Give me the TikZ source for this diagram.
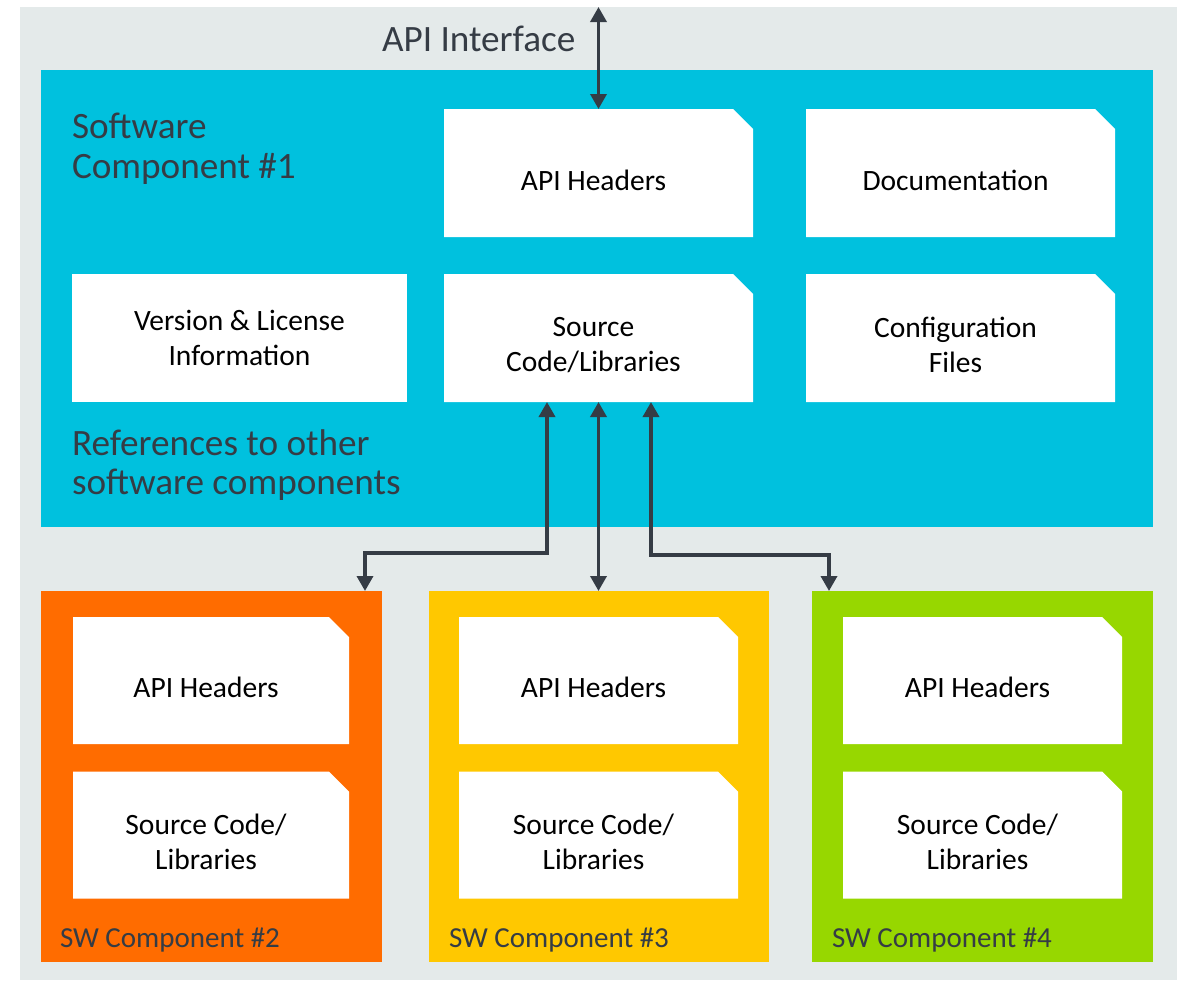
\documentclass[tikz,border=0pt]{standalone}
\usepackage{fontspec}
\setmainfont{Carlito}
\usetikzlibrary{arrows.meta}
\pgfdeclarelayer{bg}
\pgfsetlayers{bg,main}

\definecolor{pagegrey}{HTML}{E4EAEA}
\definecolor{compcyan}{HTML}{00C1DE}
\definecolor{comporange}{HTML}{FF6C00}
\definecolor{compyellow}{HTML}{FFC800}
\definecolor{compgreen}{HTML}{97D700}
\definecolor{inkdark}{HTML}{353C45}

% white sheet with a cut top-right corner
\newcommand\foldsheet[1]{%
  \fill[white] (#1.north west) -- ([xshift=-20pt]#1.north east)
    -- ([yshift=-20pt]#1.north east) -- (#1.south east) -- (#1.south west) -- cycle;}
\newcommand\plainsheet[1]{%
  \fill[white] (#1.north west) rectangle (#1.south east);}

\begin{document}
\begin{tikzpicture}[x=1pt,y=-1pt,
  every node/.style={outer sep=0pt, inner sep=0pt},
  sheettext/.style={align=center, text=black,
    font=\fontsize{29.5}{35}\selectfont},
  % a sheet is an empty frame; its text sits slightly low and left
  sheet/.style={label={[sheettext, xshift=-5pt, yshift=-7pt]center:{#1}}},
  bigsheet/.style={sheet=#1, minimum width=309pt, minimum height=128pt},
  smallsheet/.style={sheet=#1, minimum height=127pt},
  panel/.style={minimum width=341pt, minimum height=371pt, fill=#1},
  biglabel/.style={anchor=base west, text=inkdark,
    font=\fontsize{37.2}{40}\selectfont},
  paneltitle/.style={anchor=base west, text=inkdark,
    font=\fontsize{29}{34}\selectfont},
  link/.style={draw=inkdark, line width=3.5pt,
    {Triangle[width=16pt,length=15pt]}-{Triangle[width=16pt,length=15pt]}}]

\useasboundingbox (0,0) rectangle (1186,980);

% ---------- backgrounds ----------
\begin{pgfonlayer}{bg}
  \fill[pagegrey] (20,7) rectangle (1177,980);
  \fill[compcyan] (41,70) rectangle (1153,527);
  \node[panel=comporange] (sw2) at (211.5,776.5) {};
  \node[panel=compyellow, minimum width=340pt] (sw3) at (599,776.5) {};
  \node[panel=compgreen] (sw4) at (982.5,776.5) {};
\end{pgfonlayer}

% ---------- software component #1 ----------
\node[biglabel] (apiif) at (382,51) {API Interface};
\node[biglabel] (sc1a) at (72,138) {Software};
\node[biglabel] (sc1b) at (72,178) {Component \#1};
\node[biglabel] (refa) at (72,455) {References to other};
\node[biglabel] (refb) at (72,494) {software components};

\node[bigsheet={API Headers}] (apihdr) at (598.5,173) {};
\node[bigsheet={Documentation}] (doc) at (960.5,173) {};
\node[minimum width=335pt, minimum height=128pt, sheettext] (ver) at (239.5,338)
  {Version \& License\\Information};
\node[bigsheet={Source\\Code/Libraries}] (src) at (598.5,338) {};
\node[bigsheet={Configuration\\Files}] (cfg) at (960.5,338) {};

% ---------- components #2 .. #4 ----------
\node[smallsheet={API Headers}, minimum width=276pt] (hdr2) at (211,680.5) {};
\node[smallsheet={Source Code/\\Libraries}, minimum width=276pt] (lib2) at (211,835) {};
\node[smallsheet={API Headers}, minimum width=279pt] (hdr3) at (598.5,680.5) {};
\node[smallsheet={Source Code/\\Libraries}, minimum width=279pt] (lib3) at (598.5,835) {};
\node[smallsheet={API Headers}, minimum width=279pt] (hdr4) at (982.5,680.5) {};
\node[smallsheet={Source Code/\\Libraries}, minimum width=279pt] (lib4) at (982.5,835) {};

\node[paneltitle] (t2) at (60,947) {SW Component \#2};
\node[paneltitle] (t3) at (449,947) {SW Component \#3};
\node[paneltitle] (t4) at (832,947) {SW Component \#4};

% white sheets beneath the texts
\begin{pgfonlayer}{bg}
  \foldsheet{apihdr}
  \foldsheet{doc}
  \plainsheet{ver}
  \foldsheet{src}
  \foldsheet{cfg}
  \foldsheet{hdr2}\foldsheet{lib2}
  \foldsheet{hdr3}\foldsheet{lib3}
  \foldsheet{hdr4}\foldsheet{lib4}
\end{pgfonlayer}

% ---------- connectors ----------
\coordinate (apiend) at (598.5,7);
\coordinate (leftturn) at (547,553);
\coordinate (rightturn) at (651,555);

\draw[link] (apiend) -- (apihdr.north);
\draw[link] ([xshift=-51.5pt]src.south) -- (leftturn) -| ([xshift=153.5pt]sw2.north);
\draw[link] (src.south) -- (src.south |- sw3.north);
\draw[link] ([xshift=52.5pt]src.south) -- (rightturn) -| ([xshift=-153.5pt]sw4.north);

\end{tikzpicture}
\end{document}
